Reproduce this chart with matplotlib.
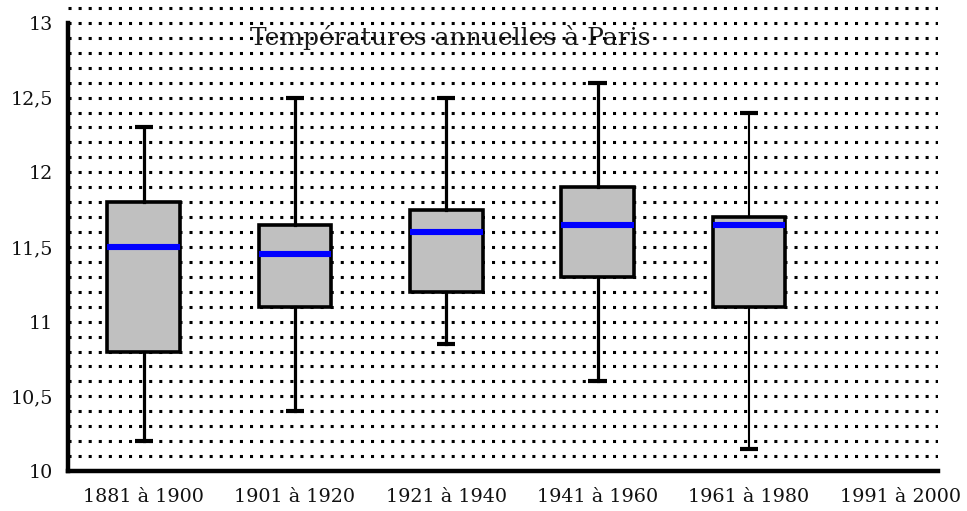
import matplotlib
matplotlib.use("Agg")
import matplotlib.pyplot as plt
import matplotlib.transforms as mtransforms
from matplotlib.ticker import MultipleLocator, FuncFormatter

# Data
categories = ["1881 à 1900", "1901 à 1920", "1921 à 1940", "1941 à 1960", "1961 à 1980", "1991 à 2000"]
whisker_low = [10.2, 10.4, 10.85, 10.6, 10.15]
q1 = [10.8, 11.1, 11.2, 11.3, 11.1]
median = [11.5, 11.45, 11.6, 11.65, 11.65]
q3 = [11.8, 11.65, 11.75, 11.9, 11.7]
whisker_high = [12.3, 12.5, 12.5, 12.6, 12.4]
title = "Températures annuelles à Paris"

fig = plt.figure(figsize=(9.67, 5.11), dpi=100)
ax = fig.add_axes([68/967, 1 - 471/511, (938-68)/967, (471-3.5)/511])

stats = []
for i in range(len(q1)):
    stats.append(dict(whislo=whisker_low[i], q1=q1[i], med=median[i], q3=q3[i],
                      whishi=whisker_high[i], fliers=[], label=categories[i]))

res = ax.bxp(stats, positions=list(range(len(q1))), widths=0.48, patch_artist=True,
             showfliers=False, capwidths=0.12,
             boxprops=dict(facecolor="#c0c0c0", edgecolor="black", linewidth=2.6),
             medianprops=dict(color="#0000ff", linewidth=4.4, solid_capstyle="butt"),
             whiskerprops=dict(color="black", linewidth=2.3),
             capprops=dict(color="black", linewidth=3.0, solid_capstyle="butt"))
for art in res["boxes"] + res["whiskers"] + res["caps"]:
    art.set_zorder(3)
for m in res["medians"]:
    m.set_zorder(4)
# thinner whiskers for the fifth box
res["whiskers"][8].set_linewidth(1.5)
res["whiskers"][9].set_linewidth(1.5)

ax.set_xlim(-0.5, 5.25)
ax.set_ylim(10, 13.13)
ax.set_xticks(range(len(categories)))
ax.set_xticklabels(categories)

ax.yaxis.set_major_locator(MultipleLocator(0.5))
ax.yaxis.set_minor_locator(MultipleLocator(0.1))
ax.yaxis.set_major_formatter(FuncFormatter(lambda v, p: ("%g" % v).replace(".", ",")))
ax.tick_params(axis="both", which="both", length=0)
ax.tick_params(axis="y", pad=11)
ax.tick_params(axis="x", pad=12)
for lab in ax.get_xticklabels() + ax.get_yticklabels():
    lab.set_fontfamily("DejaVu Serif")
    lab.set_fontsize(13.8)
    lab.set_color("#111111")

ax.grid(True, axis="y", which="both", color="black", linewidth=2.2,
        linestyle=(0, (1, 2.3)), zorder=2)
ax.set_axisbelow(False)

for s in ["top", "right"]:
    ax.spines[s].set_visible(False)
ax.spines["left"].set_linewidth(3.2)
ax.spines["bottom"].set_linewidth(3.2)
ax.spines["left"].set_bounds(10, 13)

ax.text((450-68)/870, 12.9, title,
        transform=mtransforms.blended_transform_factory(ax.transAxes, ax.transData),
        ha="center", va="center", fontsize=18, family="DejaVu Serif", color="#1a1a1a", zorder=1)

fig.savefig("out.png", dpi=100)
